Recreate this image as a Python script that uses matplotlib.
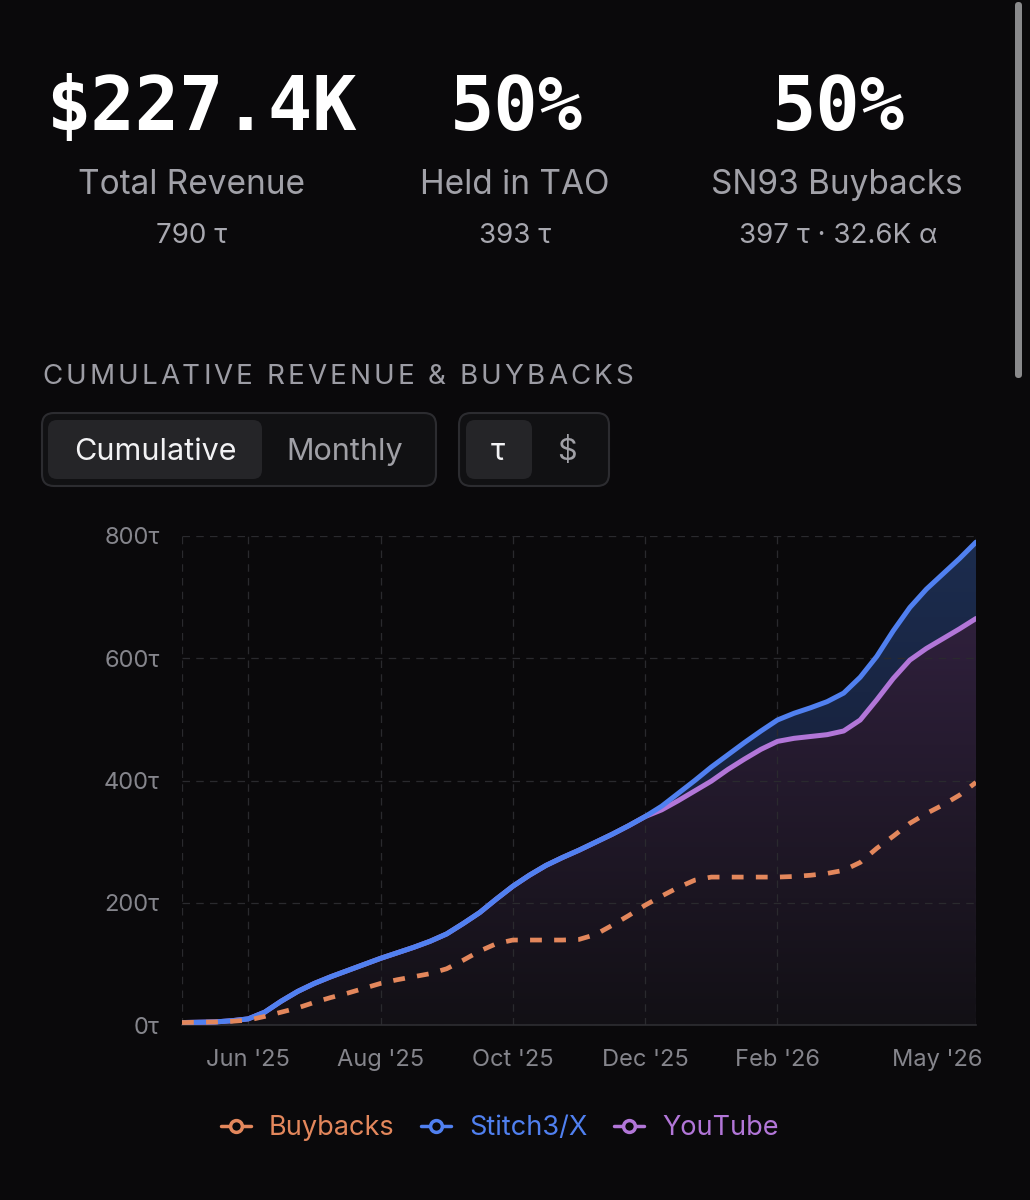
import numpy as np
import matplotlib
matplotlib.use("Agg")
import matplotlib.pyplot as plt
from matplotlib.patches import FancyBboxPatch
from matplotlib.colors import LinearSegmentedColormap
from matplotlib.font_manager import FontProperties
from matplotlib.textpath import TextToPath
from matplotlib.transforms import ScaledTranslation

# months since 1 May 2025, read every quarter month
months = [0, 0.25, 0.5, 0.75, 1, 1.25, 1.5, 1.75, 2, 2.25, 2.5, 2.75, 3,
          3.25, 3.5, 3.75, 4, 4.25, 4.5, 4.75, 5, 5.25, 5.5, 5.75, 6,
          6.25, 6.5, 6.75, 7, 7.25, 7.5, 7.75, 8, 8.25, 8.5, 8.75, 9,
          9.25, 9.5, 9.75, 10, 10.25, 10.5, 10.75, 11, 11.25, 11.5, 11.75, 12]
stitch_total = [4, 4.5, 5, 7, 10, 21, 39, 55, 68, 79, 89, 99, 109,
                118, 127, 137, 149, 166, 184, 206, 227, 245, 261, 274, 286,
                299, 312, 326, 341, 358, 379, 400, 422, 442, 462, 481, 499,
                510, 519, 529, 543, 569, 603, 645, 683, 713, 738, 763, 790]
youtube = [4, 4.5, 5, 7, 10, 21, 39, 55, 68, 79, 89, 99, 109,
           118, 127, 137, 149, 166, 184, 206, 227, 245, 261, 274, 286,
           299, 312, 326, 341, 352, 367, 383, 399, 418, 435, 451, 464,
           469, 472, 475, 481, 499, 532, 567, 597, 616, 632, 648, 665]
buybacks = [4, 4.5, 5, 6, 8, 14, 21, 28, 37, 45, 52, 60, 68,
            74, 79, 84, 92, 106, 121, 133, 139, 139, 139, 139, 140,
            148, 163, 179, 196, 211, 225, 237, 242, 242, 242, 242, 242,
            243, 245, 248, 253, 266, 289, 309, 330, 346, 360, 376, 397]

tick_pos = [0, 1, 3, 5, 7, 9, 12]
tick_labels = ["", "Jun '25", "Aug '25", "Oct '25", "Dec '25", "Feb '26", "May '26"]
y_ticks = [0, 200, 400, 600, 800]

stats = ["$227.4K", "50%", "50%"]
stat_names = ["Total Revenue", "Held in TAO", "SN93 Buybacks"]
stat_subs = ["790 τ", "393 τ", "397 τ · 32.6K α"]

series_names = ["Buybacks", "Stitch3/X", "YouTube"]

BG = "#0a090b"
BLUE = "#5080f0"
PURPLE = "#b276d8"
ORANGE = "#e3875c"
GRID = "#2a2a2e"
TICK = "#85858c"
SANS = ["Inter", "DejaVu Sans"]

fig = plt.figure(figsize=(10.3, 12), dpi=100, facecolor=BG)

# overlay in pixel coordinates for the page furniture
ov = fig.add_axes([0, 0, 1, 1], zorder=0)
ov.set_xlim(0, 1030)
ov.set_ylim(1200, 0)
ov.axis("off")

ttp = TextToPath()


def text_px(s, size, family):
    fp = FontProperties(family=family, size=size)
    w, h, d = ttp.get_text_width_height_descent(s, fp, ismath=False)
    return w * 100 / 72


# header numbers
for cx, s in zip([201, 516, 838], stats):
    ov.text(cx, 130, s, ha="center", va="baseline", color="white",
            fontsize=53, fontweight="bold", family="DejaVu Sans Mono")
for cx, s in zip([192, 515, 837], stat_names):
    ov.text(cx, 194, s, ha="center", va="baseline", color="#a1a1a8",
            fontsize=24, family=SANS)
for cx, s in zip([192, 515, 838], stat_subs):
    ov.text(cx, 243, s, ha="center", va="baseline", color="#a8a8b0",
            fontsize=20, family=SANS)

# scrollbar
ov.add_patch(FancyBboxPatch((1015, 2), 7, 376, boxstyle="round,pad=0,rounding_size=3.5",
                            facecolor="#8a8a8c", edgecolor="none"))

# section title with letter spacing
title = "CUMULATIVE REVENUE & BUYBACKS"
tsize = 20
natural = text_px(title, tsize, SANS)
spacing = (591 - natural) / (len(title) - 1)
ref = text_px("|", tsize, SANS)
for i, ch in enumerate(title):
    x = 42 + text_px(title[:i] + "|", tsize, SANS) - ref + i * spacing
    ov.text(x, 384, ch, ha="left", va="baseline", color="#9c9ca4",
            fontsize=tsize, family=SANS)

# toggle buttons
ov.add_patch(FancyBboxPatch((42, 413), 394, 73, boxstyle="round,pad=0,rounding_size=12",
                            facecolor="#111113", edgecolor="#2c2c30", lw=1.5))
ov.add_patch(FancyBboxPatch((48, 420), 214, 59, boxstyle="round,pad=0,rounding_size=9",
                            facecolor="#252528", edgecolor="none"))
ov.add_patch(FancyBboxPatch((459, 413), 150, 73, boxstyle="round,pad=0,rounding_size=12",
                            facecolor="#111113", edgecolor="#2c2c30", lw=1.5))
ov.add_patch(FancyBboxPatch((466, 420), 66, 59, boxstyle="round,pad=0,rounding_size=9",
                            facecolor="#252528", edgecolor="none"))
ov.text(155, 460, "Cumulative", ha="center", va="baseline", color="#f2f2f4", fontsize=22, family=SANS)
ov.text(345, 460, "Monthly", ha="center", va="baseline", color="#a0a0a6", fontsize=22, family=SANS)
ov.text(498, 460, "τ", ha="center", va="baseline", color="#f2f2f4", fontsize=22, family=SANS)
ov.text(567, 460, "$", ha="center", va="baseline", color="#a0a0a6", fontsize=22, family=SANS)

# chart
ax = fig.add_axes([182 / 1030, 1 - 1025 / 1200, 794 / 1030, 489 / 1200], zorder=1)
ax.set_facecolor("none")

x = np.array(months)
tot = np.array(stitch_total)
yt = np.array(youtube)
bb = np.array(buybacks)

grad = np.linspace(0, 1, 256).reshape(-1, 1)
pcmap = LinearSegmentedColormap.from_list("p", ["#121015", "#2f203c"])
bcmap = LinearSegmentedColormap.from_list("b", ["#16203a", "#1c2c4e"])

fp = ax.fill_between(x, 0, yt, facecolor="none", edgecolor="none")
im = ax.imshow(grad, extent=[x[0], x[-1], 0, yt.max()], origin="lower",
               aspect="auto", cmap=pcmap, zorder=1)
im.set_clip_path(fp.get_paths()[0], transform=ax.transData)

fb = ax.fill_between(x, yt, tot, facecolor="none", edgecolor="none")
im2 = ax.imshow(grad, extent=[x[0], x[-1], 300, tot.max()], origin="lower",
                aspect="auto", cmap=bcmap, zorder=1)
im2.set_clip_path(fb.get_paths()[0], transform=ax.transData)

ax.plot(x, yt, color=PURPLE, lw=3.6, solid_capstyle="round", solid_joinstyle="round", zorder=3)
ax.plot(x, tot, color=BLUE, lw=3.6, solid_capstyle="round", solid_joinstyle="round", zorder=4)
ax.plot(x, bb, color=ORANGE, lw=3.4, dashes=(2.5, 2.6), dash_capstyle="butt",
        dash_joinstyle="round", zorder=5)

ax.set_xlim(0, 12)
ax.set_ylim(0, 800)
ax.set_xticks(tick_pos)
ax.set_xticklabels(tick_labels)
ax.set_yticks(y_ticks)
ax.set_yticklabels([f"{v}τ" for v in y_ticks])
ax.tick_params(length=0, colors=TICK, labelsize=17)
ax.tick_params(axis="y", pad=16)
ax.tick_params(axis="x", pad=17)
for lab in ax.get_xticklabels() + ax.get_yticklabels():
    lab.set_family(SANS)
last = ax.get_xticklabels()[-1]
last.set_ha("right")
last.set_transform(last.get_transform() + ScaledTranslation(7 / 100, 0, fig.dpi_scale_trans))
ax.grid(True, color=GRID, lw=0.9, dashes=(6, 5), zorder=0)
for side in ["top", "right", "left"]:
    ax.spines[side].set_visible(False)
ax.spines["bottom"].set_color("#2e2e32")
ax.spines["bottom"].set_linewidth(1.2)

# legend
lsize = 19.5
colors = [ORANGE, BLUE, PURPLE]
widths = [text_px(n, lsize, SANS) for n in series_names]
total_w = sum(30 + 18 + w for w in widths) + 2 * 27
lx = 500 - total_w / 2
for name, col, w in zip(series_names, colors, widths):
    ov.plot([lx, lx + 30], [1126, 1126], color=col, lw=2.5, solid_capstyle="round")
    ov.plot([lx + 15], [1126], marker="o", ms=8.5, mfc=BG, mec=col, mew=2.5)
    ov.text(lx + 48, 1135, name, ha="left", va="baseline", color=col,
            fontsize=lsize, family=SANS)
    lx += 30 + 18 + w + 27

fig.savefig("out.png", dpi=100, facecolor=BG)
